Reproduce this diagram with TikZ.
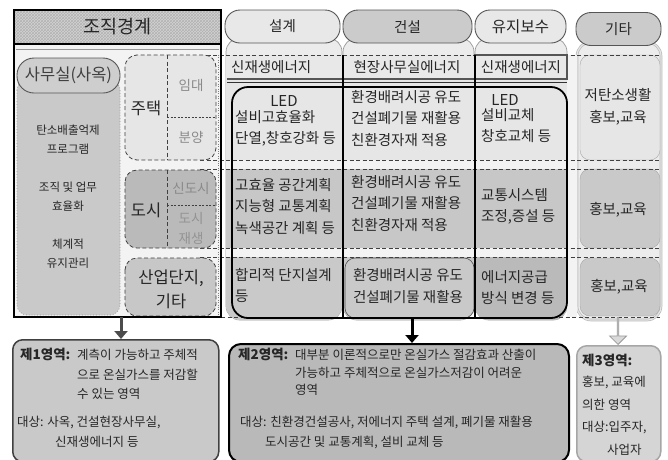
\documentclass[tikz,border=0pt]{standalone}
\usepackage{fontspec}
\setmainfont{Noto Sans CJK KR}
\usetikzlibrary{patterns,shapes.arrows,arrows.meta}
\definecolor{txt}{HTML}{262626}
\definecolor{lighttxt}{HTML}{8A8A8A}
\definecolor{bgA}{HTML}{ECECEC}
\definecolor{rowA}{HTML}{E6E6E6}
\definecolor{rowB}{HTML}{C7C7C7}
\definecolor{rowC}{HTML}{C9C9C9}
\definecolor{rowD}{HTML}{BABABA}
\definecolor{gapc}{HTML}{F3F3F3}
\definecolor{hdrL}{HTML}{E8E8E8}
\definecolor{hdrD}{HTML}{CBCBCB}
\definecolor{edge}{HTML}{555555}
\begin{document}
\begin{tikzpicture}[x=1pt,y=-1pt,
  every node/.style={inner sep=0pt, text=txt},
  hdr/.style={draw=edge, line width=0.9pt, rounded corners=15pt},
  colbg/.style={draw=gray!80, line width=0.7pt, fill=bgA, rounded corners=14pt},
  dashline/.style={draw=black!75, dash pattern=on 4pt off 2.5pt, line width=0.8pt},
  dbox/.style={dashline, rounded corners=12pt},
  celltxt/.style={font=\fontsize{14.5}{21.5}\selectfont, align=left, anchor=north west},
  cctxt/.style={font=\fontsize{14.5}{21.5}\selectfont, align=center},
  lcol/.style={font=\fontsize{11.5}{19}\selectfont, align=center},
  big/.style={font=\fontsize{16.5}{24}\selectfont},
  sub/.style={font=\fontsize{13.5}{20}\selectfont, text=lighttxt, align=center},
  btxt/.style={font=\fontsize{12.5}{19.5}\selectfont, align=left, anchor=north west},
  bhead/.style={font=\fontsize{13.5}{20}\selectfont\bfseries, anchor=north west},
]
\useasboundingbox (0,0) rectangle (668,459);

% ---------- left box background ----------
\fill[gapc] (14,44) rectangle (221,317);

% ---------- column backgrounds ----------
\draw[colbg] (226,38) rectangle (342,320);
\draw[colbg] (343,38) rectangle (474,320);
\draw[colbg] (475,38) rectangle (567,320);
\draw[colbg, draw=gray!55, double=gray!20, double distance=1.2pt] (577,42) rectangle (661,320);

% ---------- row fills inside columns ----------
\begin{scope}
\clip[rounded corners=14pt] (226,38) rectangle (342,320) (343,38) rectangle (474,320) (475,38) rectangle (567,320);
\fill[rowA] (220,55) rectangle (570,160);
\fill[hdrL] (220,55) rectangle (570,79);
\fill[gapc] (220,160) rectangle (570,169);
\fill[rowB] (220,169) rectangle (570,248);
\fill[gapc] (220,248) rectangle (570,257);
\fill[rowC] (220,257) rectangle (570,320);
\fill[rowD] (475,257) rectangle (567,320);
\end{scope}
\fill[gapc] (567,55) rectangle (577,317);
\draw[draw=black!70, line width=0.6pt, rounded corners=10pt] (345,258) rectangle (474,318);

% ---------- 기타 column cells ----------
\draw[draw=gray!70, fill=rowA, rounded corners=10pt] (580,55) rectangle (660,160);
\draw[draw=gray!70, fill=rowC, rounded corners=10pt] (580,169) rectangle (660,248);
\draw[draw=gray!70, fill=rowC, rounded corners=10pt] (580,258) rectangle (660,316);

% ---------- dashed row lines ----------
\draw[dashline] (200,55) -- (660,55);
\draw[dashline] (200,160) -- (660,160);
\draw[dashline] (200,169) -- (660,169);
\draw[dashline] (200,248) -- (660,248);
\draw[dashline] (200,257) -- (660,257);
\draw[dashline] (221,317) -- (660,317);

% ---------- solid structure lines ----------
\draw[draw=edge, line width=1.6pt] (227,79) -- (567,79);
\draw[draw=black!80, line width=0.5pt] (227,82) -- (567,82);
\draw[draw=edge, line width=1.6pt] (475,55) rectangle (567,79);
\draw[line width=1.2pt] (343,55) -- (343,318);
\draw[line width=1.2pt] (475,55) -- (475,318);
\draw[line width=1.8pt, rounded corners=16pt] (232,87) rectangle (567,318);

% ---------- left section boxes ----------
\draw[dbox, fill=rowA] (125,55) rectangle (216,160);
\draw[dashline] (167,55) -- (167,160);
\draw[dashline, dash pattern=on 2pt off 1.5pt] (167,117) -- (216,117);
\draw[dbox, fill=rowD] (125,170) rectangle (216,248);
\draw[dashline] (167,170) -- (167,248);
\draw[dashline, dash pattern=on 2pt off 1.5pt] (167,205) -- (216,205);
\draw[dbox, fill=rowB] (125,258) rectangle (216,316);
\draw[draw=gray, dotted] (218,55) -- (218,317);

\draw[draw=gray!80, dotted, line width=0.8pt, fill=rowC, rounded corners=10pt] (17,80) rectangle (120,315);
\draw[draw=edge, line width=0.9pt, fill=hdrD!95!white, rounded corners=17pt] (17,58) rectangle (120,93);

% ---------- left box frame and header ----------
\fill[hdrL!80!gray] (14,10) rectangle (221,44);
\fill[pattern=crosshatch, pattern color=gray!60] (14,10) rectangle (221,44);
\draw[line width=2.2pt] (14,10) rectangle (221,317);
\draw[line width=2.2pt] (14,44) -- (221,44);
\draw[draw=gray!80, line width=0.6pt] (16,49) -- (219,49);

% ---------- header pills ----------
\node[hdr, fill=hdrL, minimum width=115pt, minimum height=33pt, font=\fontsize{14.5}{16}\selectfont] (hsg) at (282.5,26.5) {설계};
\node[hdr, fill=hdrD, minimum width=129pt, minimum height=33pt, font=\fontsize{14.5}{16}\selectfont] (hgs) at (407.5,26.5) {건설};
\node[hdr, fill=hdrL, minimum width=91pt, minimum height=33pt, font=\fontsize{15.5}{16}\selectfont] (hyj) at (520.5,26.5) {유지보수};
\node[hdr, fill=hdrD, minimum width=85pt, minimum height=33pt, font=\fontsize{14.5}{16}\selectfont] (hgt) at (618.5,29) {기타};
\node[font=\fontsize{18.5}{20}\selectfont] (hjj) at (117.5,27) {조직경계};

% ---------- left texts ----------
\node[font=\fontsize{16.5}{18}\selectfont, text=black!75] (samu) at (68.5,75.5) {사무실(사옥)};
\node[lcol] (l1) at (68,140) {탄소배출억제\\프로그램};
\node[lcol] (l2) at (68,197) {조직 및 업무\\효율화};
\node[lcol] (l3) at (68,254) {체계적\\유지관리};

\node[big] (jt) at (146,108) {주택};
\node[sub] (im) at (191,85) {임대};
\node[sub] (by) at (191,137) {분양};
\node[big] (ds) at (146,210) {도시};
\node[sub] (sd) at (191,188) {신도시};
\node[sub, text=gray!85] (dj) at (191,228) {도시\\재생};
\node[big, align=center, font=\fontsize{16.5}{24}\selectfont] (sa) at (171,289) {산업단지,\\기타};

% ---------- row 0 ----------
\node[font=\fontsize{14.5}{16}\selectfont, anchor=west] (r0a) at (231,67) {신재생에너지};
\node[font=\fontsize{14.5}{16}\selectfont] (r0b) at (407,67) {현장사무실에너지};
\node[font=\fontsize{14.5}{16}\selectfont] (r0c) at (521,67) {신재생에너지};

% ---------- row 1 ----------
\node[font=\fontsize{15}{16}\selectfont] (r1led) at (284,101) {LED};
\node[celltxt] (r1a) at (235,110) {설비고효율화\\단열,창호강화 등};
\node[celltxt] (r1b) at (351,90) {환경배려시공 유도\\건설폐기물 재활용\\친환경자재 적용};
\node[font=\fontsize{15}{16}\selectfont] (r1led2) at (505,100) {LED};
\node[celltxt] (r1c) at (481,108) {설비교체\\창호교체 등};
\node[cctxt] (r1d) at (618,107) {저탄소생활\\홍보,교육};

% ---------- row 2 ----------
\node[celltxt] (r2a) at (235,178) {고효율 공간계획\\지능형 교통계획\\녹색공간 계획 등};
\node[celltxt] (r2b) at (351,175) {환경배려시공 유도\\건설폐기물 재활용\\친환경자재 적용};
\node[celltxt] (r2c) at (481,188) {교통시스템\\조정,증설 등};
\node[cctxt] (r2d) at (618,210) {홍보,교육};

% ---------- row 3 ----------
\node[celltxt] (r3a) at (235,268) {합리적 단지설계\\등};
\node[cctxt] (r3b) at (408,286) {환경배려시공 유도\\건설폐기물 재활용};
\node[celltxt] (r3c) at (481,270) {에너지공급\\방식 변경 등};
\node[cctxt] (r3d) at (619,287) {홍보,교육};

% ---------- bottom boxes ----------
\node[draw=black!75, line width=1.5pt, fill=rowC, rounded corners=10pt, minimum width=206pt, minimum height=122pt, anchor=north west] (b1) at (12,339) {};
\node[draw=black, line width=2pt, fill=rowC!92!black, rounded corners=12pt, minimum width=340pt, minimum height=118pt, anchor=north west] (b2) at (228,343) {};
\node[draw=gray!70, line width=1.5pt, fill=hdrD!80!white, rounded corners=10pt, minimum width=84pt, minimum height=116pt, anchor=north west] (b3) at (576,345) {};

\node[bhead] (b1h) at (20,348) {제\textbf{1}영역:};
\node[btxt] (b1t) at (77,349) {계측이 가능하고 주체적\\으로 온실가스를 저감할\\수 있는 영역};
\node[btxt] (b1d) at (17,416) {대상: 사옥, 건설현장사무실,\\\hspace*{38pt}신재생에너지 등};

\node[bhead] (b2h) at (238,348) {제\textbf{2}영역:};
\node[btxt, font=\fontsize{12.5}{17.5}\selectfont] (b2t) at (295,349) {대부분 이론적으로만 온실가스 절감효과 산출이\\가능하고 주체적으로 온실가스저감이 어려운\\영역};
\node[btxt] (b2d) at (240,416) {대상: 친환경건설공사, 저에너지 주택 설계, 폐기물 재활용\\\hspace*{25pt}도시공간 및 교통계획, 설비 교체 등};

\node[bhead] (b3h) at (582,354) {제\textbf{3}영역:};
\node[btxt, font=\fontsize{12.5}{22.5}\selectfont] (b3t) at (582,376) {홍보, 교육에\\의한 영역\\대상:입주자,\\\hspace*{25pt}사업자};

% ---------- arrows ----------
\coordinate (a1) at (121,317);
\coordinate (a2) at (412,318);
\draw[draw=black!70, line width=3pt, -{Triangle[length=8pt,width=13pt]}] (a1) -- (b1.north -| a1);
\draw[draw=black, line width=3pt, -{Triangle[length=8pt,width=13pt]}] (a2) -- (b2.north -| a2);
\node[single arrow, shape border rotate=270, draw=gray!80, fill=gray!30, line width=0.8pt, minimum width=17pt, minimum height=27pt, single arrow head extend=4pt, single arrow tip angle=90, inner sep=0pt, anchor=tip] (a3) at (b3.north -| 618,0) {};
\end{tikzpicture}
\end{document}
